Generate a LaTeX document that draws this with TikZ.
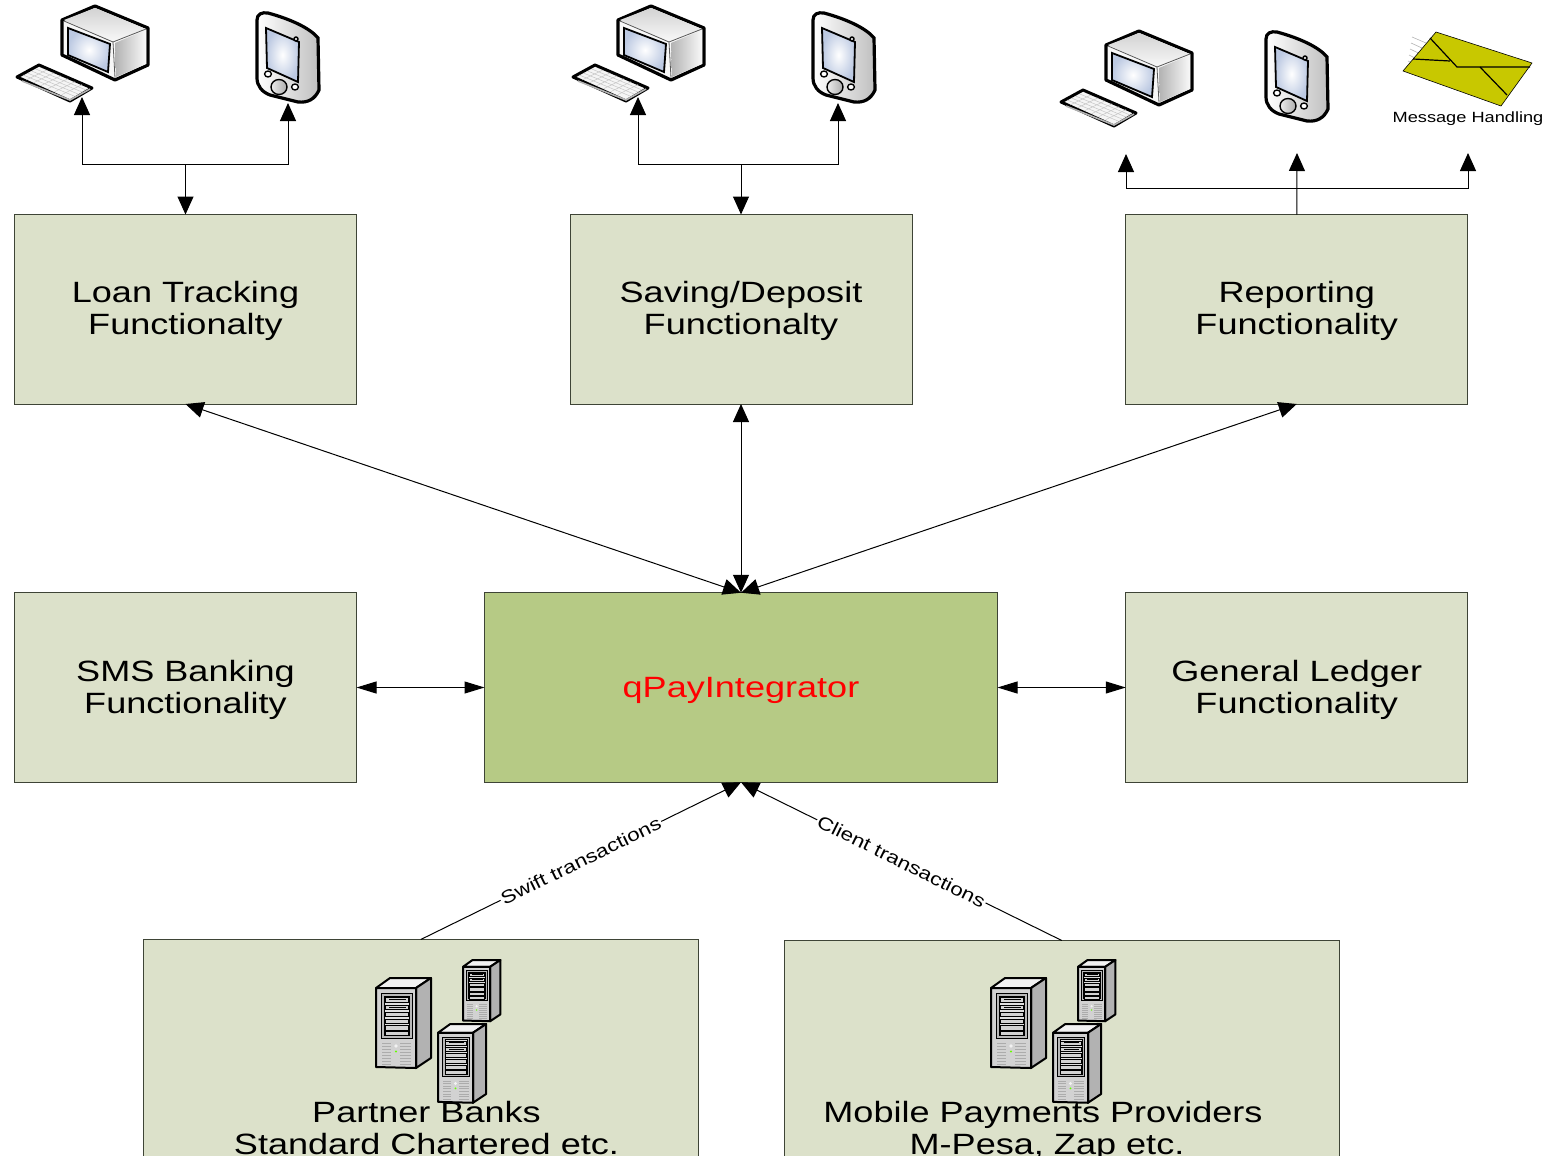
\documentclass[tikz,border=0pt]{standalone}
\usepackage{fontspec}
\setmainfont[FakeStretch=1.23]{Liberation Sans}
\usetikzlibrary{calc}
\usetikzlibrary{arrows.meta}
\def \px {0.75pt}
\definecolor{boxfill}{HTML}{DCE1CA}
\definecolor{corefill}{HTML}{B6CA85}
\definecolor{boxline}{HTML}{3E4436}
\definecolor{screenblue}{HTML}{BCC9E2}
\definecolor{mailfill}{HTML}{C8C800}
\tikzset{
    basebox/.style={draw=boxline, fill=boxfill, line width=1*\px, inner sep=0pt, outer sep=0pt, minimum width=342*\px, minimum height=189.5*\px, align=center, font=\fontsize{22}{24}\selectfont},
    funcbox/.style={basebox, execute at begin node={\rule{0pt}{43pt}}},
    corebox/.style={basebox, fill=corefill, minimum width=513*\px, text=red, execute at begin node={\rule{0pt}{19.7pt}}},
    sitebox/.style={basebox, minimum width=555.5*\px, minimum height=240*\px},
    sitetext/.style={align=center, inner sep=0pt, font=\fontsize{22}{24}\selectfont},
    link/.style={line width=1*\px, >={Triangle[length=18*\px, width=16*\px]}},
    sidelink/.style={line width=1*\px, >={Triangle[length=20*\px, width=12*\px]}},
    flowlabel/.style={fill=white, inner sep=1pt, sloped, midway, font=\fontsize{13.7}{16}\selectfont},
    computer/.pic={
        \draw[line width=3.2*\px, line join=round, fill=gray!6] (62,20) -- (95,6) -- (148,28) -- (148,65) -- (115,80) -- (62,55) -- cycle;
        \shade[top color=gray!35, bottom color=gray!5] (64,20) -- (95,8) -- (146,29) -- (113,42) -- cycle;
        \shade[left color=gray!60, right color=gray!5] (115,43) -- (146,30) -- (146,64) -- (116,77) -- cycle;
        \draw[line width=.8*\px, gray!70!black] (64,21) -- (113,42) -- (115,78);
        \draw[line width=.8*\px, gray!70!black] (113,42) -- (146,29);
        \draw[line width=1.8*\px, inner color=white, outer color=screenblue] (68,28) -- (110,44) -- (108,72) -- (68,55) -- cycle;
        \draw[line width=3*\px, line join=round, fill=gray!8] (17,77) -- (39,65) -- (92,88) -- (70,101) -- cycle;
        \foreach \t in {.2,.4,.6,.8}
            \draw[gray!45, line width=.5*\px] ($(19,77)!\t!(40,67)$) -- ($(70,98)!\t!(90,88)$);
        \foreach \t in {.14,.28,.42,.56,.7,.84}
            \draw[gray!45, line width=.5*\px] ($(19,77)!\t!(70,98)$) -- ($(40,67)!\t!(90,88)$);
        \draw[line width=1.6*\px, gray!60] (22,81) -- (70,100) -- (90,89);
    },
    pda/.pic={
        \draw[line width=3.2*\px, left color=white, right color=gray!50] (257,20) .. controls (257,14) and (262,12) .. (268,13) .. controls (290,19) and (310,28) .. (318,38) -- (319,90) .. controls (315,99) and (308,103) .. (298,102) -- (270,95) .. controls (262,92) and (257,86) .. (257,78) -- cycle;
        \draw[line width=1.8*\px, inner color=white, outer color=screenblue] (266,28) -- (299,42) -- (298,82) -- (267,68) -- cycle;
        \draw[line width=1.4*\px, fill=white] (268,74) circle [x radius=3.4, y radius=3];
        \draw[line width=1.4*\px, fill=white] (295,87) circle [x radius=3.4, y radius=3];
        \draw[line width=1.4*\px, left color=gray!15, right color=gray!65] (279,87) circle [x radius=8, y radius=7.5];
        \draw[line width=1.4*\px, fill=gray!30] (296,39) circle [radius=2];
    },
    serverbox/.pic={
        \draw[line width=2*\px, line join=round, fill=gray!10] (0,10) -- (14,0) -- (55,0) -- (40,10) -- cycle;
        \draw[line width=2*\px, line join=round, fill=gray!60] (40,10) -- (55,0) -- (55,80) -- (40,90) -- cycle;
        \draw[line width=2*\px, line join=round, fill=gray!35] (0,10) -- (40,10) -- (40,90) -- (0,89) -- cycle;
        \draw[line width=1*\px, fill=gray!55] (5,15) rectangle (36,60);
        \draw[line width=.6*\px, fill=gray!25] (8,18) rectangle (33,57);
        \foreach \r in {19.5,27,34,41,47.5,53}
            \draw[line width=.8*\px, fill=gray!35] (9,\r) rectangle (32,\r+4.5);
        \foreach \r in {21,29}
            \draw[line width=1*\px] (13,\r) -- (30,\r);
        \foreach \r in {65,68,...,86} {
            \draw[gray!65, line width=.6*\px] (6,\r) -- (15,\r);
            \draw[gray!65, line width=.6*\px] (24,\r) -- (35,\r);
        }
        \fill[gray!10] (20,68) circle [radius=1.8];
        \fill[green!60!yellow] (20,73.5) circle [radius=1.2];
    },
    mailpic/.pic={
        \foreach \d in {0,1,2,3,4}
            \draw[gray!60, line width=.6*\px] (1412+\d*-1,37+\d*6) -- (1426+\d*-1.8,43+\d*6);
        \draw[line width=.6*\px, fill=mailfill, line join=round] (1436,32) -- (1532,63) -- (1501,106) -- (1403,71) -- cycle;
        \draw[line width=1.2*\px] (1430,38) -- (1457,67) -- (1530,67);
        \draw[line width=1.2*\px] (1413,59) -- (1450,61);
        \draw[line width=1.2*\px] (1480,67) -- (1507,95);
    },
}
\begin{document}
\begin{tikzpicture}[x=0.75pt, y=-0.75pt]
    \useasboundingbox (0,0) rectangle (1545,1156);
    \clip (0,0) rectangle (1545,1156);
    \foreach \s/\x/\A in {loan/185.5/{Loan Tracking\\Functionalty},saving/741/{Saving/Deposit\\Functionalty},reporting/1296.75/{Reporting\\Functionality}}
    {
        \node[funcbox] (\s) at (\x,309.25) {\A};
    }
    \node[funcbox] (sms) at (185.5,687.5) {SMS Banking\\Functionality};
    \node[corebox] (core) at (741,687.5) {qPayIntegrator};
    \node[funcbox] (ledger) at (1296.75,687.5) {General Ledger\\Functionality};
    \node[sitebox, anchor=north] (banks) at (420.75,939.5) {};
    \node[sitebox, anchor=north] (providers) at (1061.75,940.5) {};
    \foreach \x/\y in {0/0,556/0,1044/25}
        \pic at (\x,\y) {computer};
    \foreach \x/\y in {0/0,556/0,1009/19}
        \pic at (\x,\y) {pda};
    \pic at (0,0) {mailpic};
    \node[inner sep=0pt, font=\fontsize{11.1}{13}\selectfont] (mailtext) at (1468,119) {Message Handling};
    \foreach \x in {0,615}
    {
        \pic at (376+\x,978) {serverbox};
        \pic[scale=.68] at (463+\x,960) {serverbox};
        \pic[scale=.875] at (438+\x,1024) {serverbox};
    }
    \node[sitetext] (bankstext) at (426.5,1128) {Partner Banks\\Standard Chartered etc.};
    \node[sitetext] (providerstext) at (1043,1131) {Mobile Payments Providers\\\hspace*{6pt}M-Pesa, Zap etc.};
    \foreach \s/\L/\R/\T in {loan/82/288/164,saving/638/838/164}
    {
        \coordinate (\s join) at (\s.north |- 0,\T);
        \coordinate (\s pc) at (\L,97);
        \coordinate (\s pda) at (\R,103);
        \draw[link, ->] (\s join) -- (\s.north);
        \draw[link, ->] (\s join) -| (\s pc);
        \draw[link, ->] (\s join) -| (\s pda);
    }
    \coordinate (reporting join) at (reporting.north |- 0,188);
    \coordinate (reporting pc) at (1126,154);
    \coordinate (reporting pda) at (1297,153);
    \coordinate (reporting mail) at (1468,153);
    \draw[link, ->] (reporting.north) -- (reporting pda);
    \draw[link, ->] (reporting join) -| (reporting pc);
    \draw[link, ->] (reporting join) -| (reporting mail);
    \foreach \s in {loan,saving,reporting}
        \draw[link, <->] (core.north) -- (\s.south);
    \draw[sidelink, <->] (sms) -- (core);
    \draw[sidelink, <->] (core) -- (ledger);
    \draw[link, ->] (banks.north) -- (core.south) node[flowlabel] {Swift transactions};
    \draw[link, ->] (providers.north) -- (core.south) node[flowlabel] {Client transactions};
\end{tikzpicture}
\end{document}
